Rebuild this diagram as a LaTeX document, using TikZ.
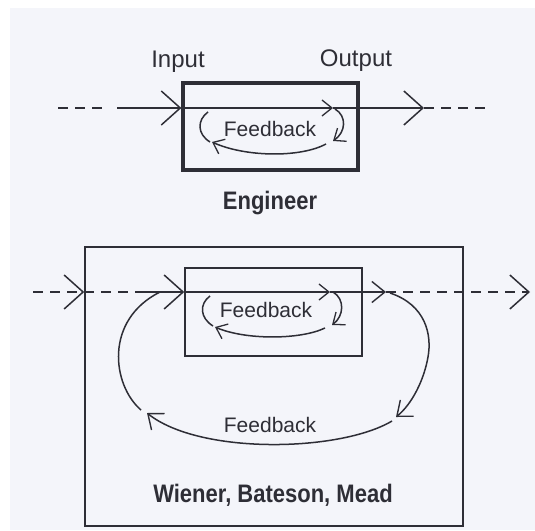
\documentclass[tikz,border=0pt]{standalone}
\usepackage{fontspec}
\setmainfont{Liberation Sans}
\usetikzlibrary{arrows.meta}
\definecolor{ink}{HTML}{2E2E36}
\definecolor{paper}{HTML}{F4F5FA}
\tikzset{
  wire/.style={draw=ink, line width=1.5pt},
  dashwire/.style={wire, dash pattern=on 10pt off 7pt},
  bigtip/.style={-{Straight Barb[length=19pt,width=34pt,line width=1.5pt]}},
  midtip/.style={-{Straight Barb[length=13pt,width=21pt,line width=1.4pt]}},
  smalltip/.style={-{Straight Barb[length=10pt,width=16pt,line width=1.3pt]}},
  label/.style={text=ink, inner sep=0pt, font=\fontsize{21}{23}\selectfont},
  biglabel/.style={text=ink, inner sep=0pt, font=\fontsize{24}{26}\selectfont},
  title/.style={text=ink, inner sep=0pt, font=\bfseries\fontsize{22}{24}\selectfont, yscale=1.15},
  thickbox/.style={draw=ink, line width=3.2pt, inner sep=0pt},
  thinbox/.style={draw=ink, line width=1.5pt, inner sep=0pt},
}
\begin{document}
\begin{tikzpicture}[x=1pt,y=-1pt]
  % page and paper
  \fill[white] (0,0) rectangle (535,530);
  \fill[paper] (10,8) rectangle (535,530);
  \useasboundingbox (0,0) rectangle (535,530);

  % ---------- engineer's view ----------
  \node[thickbox, minimum width=175pt, minimum height=87pt] (eng) at (270.5,126.5) {};
  \node[biglabel] (inlab) at (178,62) {Input};
  \node[biglabel] (outlab) at (356,61) {Output};
  \node[label] (fbA) at (270,129) {Feedback};
  \node[title] (englab) at (270,203) {Engineer};

  \coordinate (a0) at (58,108);
  \coordinate (a1) at (103,108);
  \coordinate (a2) at (117,108);
  \coordinate (a3) at (333,108);
  \coordinate (a4) at (424,108);
  \coordinate (a5) at (487,108);

  \path[dashwire] (a0) -- (a1);
  \draw[wire, bigtip] (a2) -- (a2 -| eng.west);
  \draw[wire, smalltip] (a2 -| eng.west) -- (a3);
  \draw[wire, bigtip] (a3) -- (a4);
  \path[dashwire] (a4) -- (a5);

  % inner feedback loop
  \draw[wire, smalltip] (335,109) .. controls (347,116) and (346,132) .. (333,141);
  \draw[wire, smalltip] (326,144) .. controls (300,158) and (245,157) .. (212,142);
  \draw[wire] (208,112) .. controls (197,120) and (197,134) .. (210,142);

  % ---------- the wider view ----------
  \node[thinbox, minimum width=378pt, minimum height=279pt] (world) at (274,386.5) {};
  \node[thinbox, minimum width=177pt, minimum height=88pt] (sys) at (273.5,312) {};
  \node[label] (fbB) at (266,310) {Feedback};
  \node[label] (fbC) at (270,425) {Feedback};
  \node[title] (who) at (273,495) {Wiener, Bateson, Mead};

  \coordinate (b0) at (33,292);
  \coordinate (b1) at (143,292);
  \coordinate (b2) at (330,292);
  \coordinate (b3) at (386,292);
  \coordinate (b4) at (530,292);

  \draw[dashwire, bigtip] (b0) -- (b0 -| world.west);
  \path[dashwire] (b0 -| world.west) -- (b1);
  \draw[wire, bigtip] (b1) -- (b1 -| sys.west);
  \draw[wire, smalltip] (b1 -| sys.west) -- (b2);
  \draw[wire, midtip] (b2) -- (b3);
  \draw[dashwire, bigtip] (b3) -- (b4);

  % inner loop of the system
  \draw[wire, smalltip] (333,292) .. controls (345,299) and (344,316) .. (332,325);
  \draw[wire, smalltip] (325,328) .. controls (300,340) and (245,340) .. (215,327);
  \draw[wire] (210,296) .. controls (199,304) and (200,318) .. (213,326);

  % outer loop through the world
  \draw[wire, midtip] (390,293) .. controls (426,305) and (432,335) .. (428,357)
        .. controls (424,380) and (412,404) .. (396,417);
  \draw[wire, midtip] (392,421) .. controls (340,452) and (200,455) .. (147,413);
  \draw[wire] (141,410) .. controls (112,385) and (104,320) .. (160,292);
\end{tikzpicture}
\end{document}
